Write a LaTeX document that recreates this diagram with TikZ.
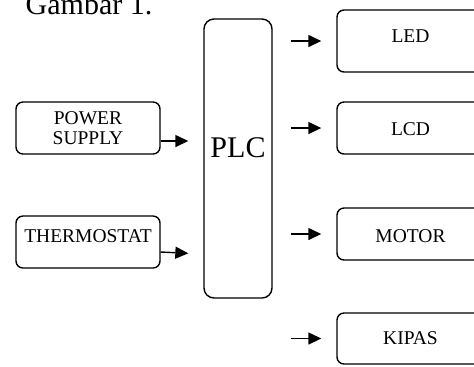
\documentclass[tikz,border=0pt]{standalone}
\usepackage{fontspec}
\setmainfont{Liberation Serif}
\usetikzlibrary{arrows.meta}

\begin{document}
\begin{tikzpicture}[
    x=0.5pt, y=-0.5pt,
    line width=0.7pt,
    font=\fontsize{9.75}{10}\selectfont,
    box/.style={draw, rectangle, rounded corners=3.5pt, align=center,
                inner ysep=0pt, inner xsep=2pt},
    outbox/.style={box, minimum width=73.5pt, anchor=base,
                   text height=16.5pt, text depth=9.5pt},
    arr/.style={-{Triangle[length=6.5pt, width=6pt]}},
  ]
    \useasboundingbox (0,0) rectangle (474,366);
    \clip (0,0) rectangle (474,366);

    \node[anchor=base west, inner sep=0pt, font=\fontsize{15}{18}\selectfont]
      (title) at (25,14) {Gambar 1.};

    % inputs
    \node[box, minimum width=72pt, minimum height=26pt]
      (power) at (88,128) {POWER\\SUPPLY};
    \node[box, minimum width=72pt, anchor=base, text height=13pt, text depth=13pt]
      (thermo) at (88,242) {THERMOSTAT};

    % controller
    \node[box, rounded corners=5pt, minimum width=34pt, anchor=base,
          text height=69pt, text depth=70.5pt, font=\fontsize{15}{18}\selectfont]
      (plc) at (238,157) {PLC};

    % outputs
    \node[outbox, text height=16pt, text depth=15pt] (led) at (410.5,42) {LED};
    \node[outbox] (lcd) at (410.5,135) {LCD};
    \node[outbox, text height=17pt, text depth=9pt] (motor) at (410.5,242) {MOTOR};
    \node[outbox, text height=15.5pt, text depth=10pt] (kipas) at (410.5,344) {KIPAS};

    \draw[arr, shorten >=7.5pt] ([yshift=-6.5pt]power.east) -- ([yshift=-6.5pt]power.east -| plc.west);
    \draw[arr, shorten >=7.5pt] ([yshift=-5pt]thermo.east) -- ([yshift=-6pt]thermo.east -| plc.west);

    \foreach \out in {led, lcd, motor, kipas}
      \draw[arr, shorten <=9pt, shorten >=7.5pt] (plc.east |- \out.west) -- (\out.west);
  \end{tikzpicture}
\end{document}
